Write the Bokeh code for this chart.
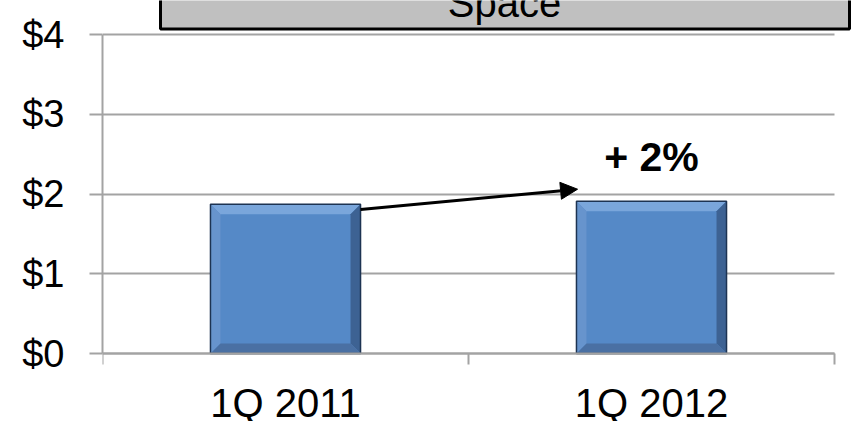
import numpy as np
from bokeh.plotting import figure
from bokeh.models import FixedTicker, Range1d, Arrow, NormalHead
from bokeh.core.properties import value
from bokeh.embed import file_html
from bokeh.resources import INLINE

# ---- data -------------------------------------------------------------
quarters = ["1Q 2011", "1Q 2012"]
revenue = [1.87, 1.91]              # $ per quarter
y_ticks = [0, 1, 2, 3, 4]
y_tick_labels = ["$0", "$1", "$2", "$3", "$4"]
header_text = "Space"

# ---- layout -----------------------------------------------------------
FONT = "Liberation Sans"
W, H = 854, 421
LEFT, RIGHT = 102, 2
ZERO_PX = 353         # screen row of the $0 baseline
CAT_PX = 366          # pixel width of one category slot
UNIT_PX = 79.75       # pixels per dollar
n = len(quarters)
x_end = (W - LEFT - RIGHT) / CAT_PX
y_end = ZERO_PX / UNIT_PX
y_start = -(H - ZERO_PX) / UNIT_PX
GREY = "#a3a3a3"

p = figure(width=W, height=H, output_backend="svg", toolbar_location=None,
           x_range=Range1d(0, x_end), y_range=Range1d(y_start, y_end),
           min_border_left=LEFT, min_border_right=RIGHT,
           min_border_top=0, min_border_bottom=0,
           background_fill_color="white", border_fill_color="white")
p.outline_line_color = None
p.xgrid.visible = False

# y axis: dollar ticks with outward tick marks
p.yaxis.ticker = FixedTicker(ticks=y_ticks, minor_ticks=[])
p.yaxis.major_label_overrides = {t: s for t, s in zip(y_ticks, y_tick_labels)}
p.yaxis.bounds = (y_ticks[0], y_ticks[-1])
p.yaxis.axis_line_color = GREY
p.yaxis.axis_line_width = 2
p.yaxis.major_tick_line_color = GREY
p.yaxis.major_tick_line_width = 2
p.yaxis.major_tick_out = 13
p.yaxis.major_tick_in = 0
p.yaxis.major_label_standoff = 25
p.yaxis.major_label_text_font = FONT
p.yaxis.major_label_text_font_size = "38px"
p.yaxis.major_label_text_color = "black"

# x axis: labels centred in slots, tick marks on slot boundaries
centers = [i + 0.5 for i in range(n)]
p.xaxis.fixed_location = 0
p.xaxis.ticker = FixedTicker(ticks=centers, minor_ticks=list(range(n + 1)))
p.xaxis.major_label_overrides = {c: q for c, q in zip(centers, quarters)}
p.xaxis.bounds = (0, n)
p.xaxis.axis_line_color = GREY
p.xaxis.axis_line_width = 2
p.xaxis.major_tick_line_color = None
p.xaxis.major_tick_out = 11
p.xaxis.major_tick_in = 0
p.xaxis.minor_tick_line_color = GREY
p.xaxis.minor_tick_line_width = 2
p.xaxis.minor_tick_out = 11
p.xaxis.minor_tick_in = 0
p.xaxis.major_label_standoff = 16
p.xaxis.major_label_text_font = FONT
p.xaxis.major_label_text_font_size = "40px"
p.xaxis.major_label_text_color = "black"

p.ygrid.ticker = FixedTicker(ticks=y_ticks, minor_ticks=[])
p.ygrid.grid_line_color = GREY
p.ygrid.grid_line_width = 2
p.ygrid.cross_bounds = (0, n)

# ---- bevelled bars ----------------------------------------------------
bar_w = 0.41
dx = 10 / CAT_PX
dy = 10 / UNIT_PX
x0 = np.array(centers) - bar_w / 2
x1 = np.array(centers) + bar_w / 2
top = np.array(revenue)

p.vbar(x=centers, top=revenue, width=bar_w, bottom=0,
       fill_color="#5589c7", line_color=None)

faces = {
    "top": ("#7aa6db", lambda a, b, t: ([a, b, b - dx, a + dx], [t, t, t - dy, t - dy])),
    "left": ("#6794cd", lambda a, b, t: ([a, a, a + dx, a + dx], [0, t, t - dy, dy])),
    "right": ("#3d6293", lambda a, b, t: ([b, b, b - dx, b - dx], [0, t, t - dy, dy])),
    "bottom": ("#4a70a3", lambda a, b, t: ([a, b, b - dx, a + dx], [0, 0, dy, dy])),
}
for name, (col, fn) in faces.items():
    xs, ys = [], []
    for a, b, t in zip(x0, x1, top):
        px, py = fn(a, b, t)
        xs.append(px)
        ys.append(py)
    p.patches(xs=xs, ys=ys, fill_color=col, line_color=None)

p.vbar(x=centers, top=revenue, width=bar_w, bottom=0,
       fill_color=None, line_color="#1d3352", line_width=1.5)

# ---- growth arrow and label ------------------------------------------
growth = round((revenue[1] / revenue[0] - 1) * 100)
p.add_layout(Arrow(end=NormalHead(size=17, fill_color="black", line_color="black"),
                   x_start=x1[0], y_start=revenue[0] - 0.065,
                   x_end=x0[1] + 0.003, y_end=revenue[1] + 0.15,
                   line_color="black", line_width=3))
p.text(x=[centers[1]], y=[revenue[1] + 0.55], text=[f"+ {growth}%"],
       text_font=value(FONT), text_font_size="41px", text_font_style="bold",
       text_align="center", text_baseline="middle", text_color="black")

# ---- header box -------------------------------------------------------
p.quad(left=[58 / CAT_PX], right=[747 / CAT_PX], bottom=[324.5 / UNIT_PX],
       top=[y_end + 1], fill_color="#c0c0c0", line_color="black", line_width=3)
p.text(x=[402 / CAT_PX], y=[350.5 / UNIT_PX], text=[header_text],
       text_font=value(FONT), text_font_size="40px",
       text_align="center", text_baseline="middle", text_color="black")

open("out.html", "w").write(file_html(p, INLINE))
